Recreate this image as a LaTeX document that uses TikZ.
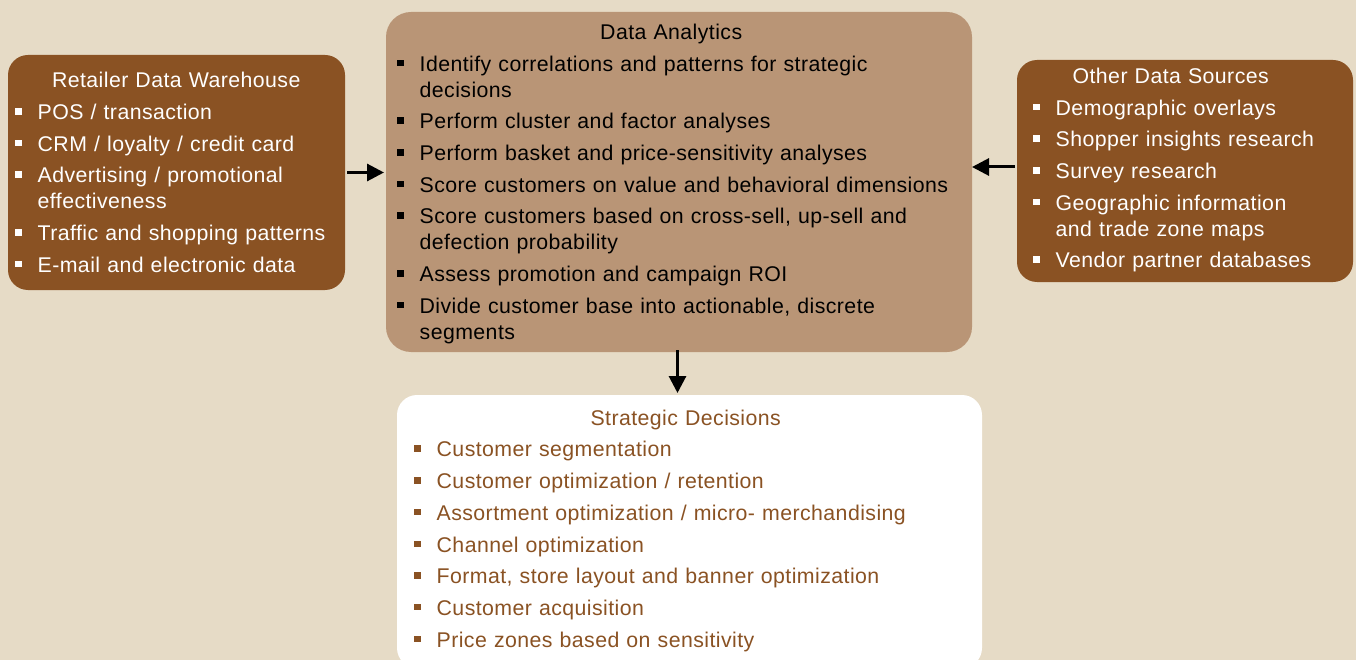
\documentclass[tikz,border=0pt]{standalone}
\usepackage{fontspec}
\setmainfont{Liberation Sans}[LetterSpace=2.0]
\usepackage{tikz}
\usetikzlibrary{arrows.meta,positioning,calc}

\definecolor{bgbeige}{RGB}{230,219,198}
\definecolor{darkbrown}{RGB}{138,82,35}
\definecolor{lightbrown}{RGB}{185,149,118}

% bullet item with hanging indent
\newcommand{\bitem}[1]{\par\hangindent=22.5pt\hangafter=1\noindent\makebox[22.5pt][l]{\rule[5pt]{6.5pt}{6.5pt}}#1}
% centred heading over a given width
\newcommand{\btitle}[2]{\noindent\makebox[#1][c]{\rule{0pt}{20pt}#2}\par}

\begin{document}
\begin{tikzpicture}[x=1pt,y=-1pt]
    \tikzstyle{box}=[rounded corners=20pt, inner sep=0pt, outer sep=0pt]
    \tikzstyle{txt}=[anchor=north west, inner sep=0pt, align=left, font=\fontsize{21.3}{26}\selectfont]
    \tikzstyle{arr}=[line width=3pt, -{Triangle[length=17pt,width=17pt]}]
    \useasboundingbox (0,0) rectangle (1356,660);
    \fill[bgbeige] (0,0) rectangle (1356,660);
    \clip (0,0) rectangle (1356,660);
    % boxes
    \node[box, fill=darkbrown, minimum width=337pt, minimum height=235pt] (rdw) at (176.5,172.5) {};
    \node[box, fill=lightbrown, rounded corners=25pt, minimum width=586pt, minimum height=340pt] (ana) at (679,182) {};
    \node[box, fill=darkbrown, minimum width=336pt, minimum height=222pt] (ods) at (1185,171) {};
    \node[box, fill=white, minimum width=585pt, minimum height=273pt] (sdec) at (689.5,531.5) {};
    % texts
    \node[txt, text=white, text width=330pt] (rdw-txt) at (15,67.7) {\setlength{\parskip}{5.7pt}%
        \btitle{322pt}{Retailer Data Warehouse}%
        \bitem{POS / transaction}%
        \bitem{CRM / loyalty / credit card}%
        \bitem{Advertising / promotional\newline effectiveness}%
        \bitem{Traffic and shopping patterns}%
        \bitem{E-mail and electronic data}\par};
    \node[txt, text=black, text width=560pt] (ana-txt) at (397,19.3) {\setlength{\parskip}{5.7pt}%
        \btitle{548pt}{Data Analytics}%
        \bitem{Identify correlations and patterns for strategic\newline decisions}%
        \bitem{Perform cluster and factor analyses}%
        \bitem{Perform basket and price-sensitivity analyses}%
        \bitem{Score customers on value and behavioral dimensions}%
        \bitem{Score customers based on cross-sell, up-sell and\newline defection probability}%
        \bitem{Assess promotion and campaign ROI}%
        \bitem{Divide customer base into actionable, discrete\newline segments}\par};
    \node[txt, text=white, text width=330pt] (ods-txt) at (1033,63.3) {\setlength{\parskip}{5.7pt}%
        \btitle{275pt}{Other Data Sources}%
        \bitem{Demographic overlays}%
        \bitem{Shopper insights research}%
        \bitem{Survey research}%
        \bitem{Geographic information\newline and trade zone maps}%
        \bitem{Vendor partner databases}\par};
    \node[txt, text=darkbrown, text width=560pt] (sdec-txt) at (414,405) {\setlength{\parskip}{5.7pt}%
        \btitle{543pt}{Strategic Decisions}%
        \bitem{Customer segmentation}%
        \bitem{Customer optimization / retention}%
        \bitem{Assortment optimization / micro- merchandising}%
        \bitem{Channel optimization}%
        \bitem{Format, store layout and banner optimization}%
        \bitem{Customer acquisition}%
        \bitem{Price zones based on sensitivity}\par};
    % arrows
    \draw[arr, shorten >=2pt, shorten <=2pt] (rdw.east) -- (rdw.east -| ana.west);
    \draw[arr, shorten <=2pt] ([yshift=4pt]ods.west) -- ([yshift=4pt]ods.west -| ana.east);
    \draw[arr, shorten <=-2pt, shorten >=2pt] ([xshift=-1.5pt]ana.south) -- ([xshift=-1.5pt]ana.south |- sdec.north);
\end{tikzpicture}
\end{document}
